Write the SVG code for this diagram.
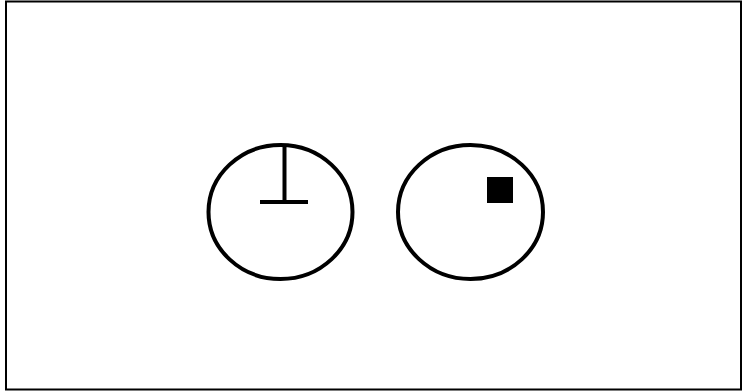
<svg xmlns="http://www.w3.org/2000/svg" width="743" height="391" viewBox="0 0 743 391">
<style>
.ring{fill:none;stroke:#000;stroke-width:4}
.ln{stroke:#000;stroke-width:4;fill:none}
</style>
<rect x="0" y="0" width="743" height="391" fill="#fff"/>
<rect x="6" y="1.5" width="735" height="388" fill="none" stroke="#000" stroke-width="2"/>
<g id="node1">
<ellipse class="ring" cx="280.5" cy="212" rx="72" ry="67"/>
<line class="ln" x1="284.5" y1="145" x2="284.5" y2="202"/>
<line class="ln" x1="260" y1="202" x2="308" y2="202"/>
</g>
<g id="node2">
<ellipse class="ring" cx="470.5" cy="212" rx="72.5" ry="67"/>
<rect x="487" y="177" width="26" height="26" fill="#000"/>
</g>
<g id="connectors"></g>
</svg>
